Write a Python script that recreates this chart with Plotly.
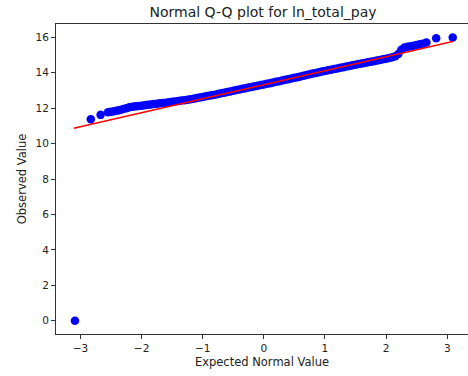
import plotly.graph_objects as go

band_x = [-2.55, -2.50, -2.45, -2.40, -2.35, -2.30, -2.25, -2.20, -2.15, -2.10, -2.05, -2.00,
          -1.95, -1.90, -1.85, -1.80, -1.75, -1.70, -1.65, -1.60, -1.55, -1.50, -1.45, -1.40,
          -1.35, -1.30, -1.25, -1.20, -1.15, -1.10, -1.05, -1.00, -0.95, -0.90, -0.85, -0.80,
          -0.75, -0.70, -0.65, -0.60, -0.55, -0.50, -0.45, -0.40, -0.35, -0.30, -0.25, -0.20,
          -0.15, -0.10, -0.05, 0.00, 0.05, 0.10, 0.15, 0.20, 0.25, 0.30, 0.35, 0.40,
          0.45, 0.50, 0.55, 0.60, 0.65, 0.70, 0.75, 0.80, 0.85, 0.90, 0.95, 1.00,
          1.05, 1.10, 1.15, 1.20, 1.25, 1.30, 1.35, 1.40, 1.45, 1.50, 1.55, 1.60,
          1.65, 1.70, 1.75, 1.80, 1.85, 1.90, 1.95, 2.00, 2.05, 2.10, 2.15, 2.20,
          2.25, 2.30, 2.35, 2.40, 2.45, 2.50, 2.55, 2.60]
band_y = [11.77, 11.80, 11.82, 11.86, 11.90, 11.95, 12.00, 12.05, 12.08, 12.10, 12.12, 12.14,
          12.17, 12.19, 12.21, 12.23, 12.25, 12.27, 12.29, 12.31, 12.33, 12.36, 12.38, 12.40,
          12.43, 12.45, 12.48, 12.50, 12.53, 12.57, 12.60, 12.63, 12.67, 12.70, 12.73, 12.76,
          12.80, 12.84, 12.87, 12.91, 12.94, 12.98, 13.02, 13.05, 13.09, 13.13, 13.16, 13.20,
          13.23, 13.27, 13.30, 13.34, 13.38, 13.41, 13.45, 13.49, 13.52, 13.56, 13.60, 13.63,
          13.67, 13.71, 13.75, 13.79, 13.83, 13.87, 13.91, 13.95, 13.99, 14.03, 14.07, 14.10,
          14.14, 14.17, 14.21, 14.24, 14.28, 14.31, 14.35, 14.38, 14.42, 14.45, 14.49, 14.52,
          14.55, 14.59, 14.62, 14.65, 14.69, 14.72, 14.76, 14.79, 14.83, 14.87, 14.93, 15.05,
          15.30, 15.42, 15.46, 15.49, 15.52, 15.56, 15.60, 15.64]
tail_x = [-3.09, -2.83, -2.67, 2.66, 2.82, 3.09]
tail_y = [0.00, 11.38, 11.62, 15.71, 15.95, 15.99]

# Least-squares fit line parameters
fit_slope = 0.789
fit_intercept = 13.32
fit_x = [-3.11, 3.09]

x_ticks = [-3, -2, -1, 0, 1, 2, 3]
x_ticklabels = ["\u22123", "\u22122", "\u22121", "0", "1", "2", "3"]
y_ticks = [0, 2, 4, 6, 8, 10, 12, 14, 16]

fig = go.Figure()
fig.add_trace(go.Scatter(
    x=tail_x[:3] + band_x + tail_x[3:],
    y=tail_y[:3] + band_y + tail_y[3:],
    mode="markers",
    marker=dict(color="#0000ff", size=8.5, line=dict(width=0)),
    showlegend=False,
))
fig.add_trace(go.Scatter(
    x=fit_x,
    y=[fit_intercept + fit_slope * v for v in fit_x],
    mode="lines",
    line=dict(color="#ff0000", width=1.5),
    showlegend=False,
))

font = "DejaVu Sans"
fig.update_layout(
    width=468, height=376,
    margin=dict(l=56, r=0, t=24, b=42),
    paper_bgcolor="white", plot_bgcolor="white",
    font=dict(family=font, size=10.5, color="#222222"),
    title=dict(text="Normal Q-Q plot for ln_total_pay", x=263 / 468, xanchor="center",
               y=1 - 12.5 / 376, yanchor="middle", font=dict(size=14, color="#222222")),
)
fig.update_xaxes(
    range=[-3.40, 3.34], tickvals=x_ticks, ticktext=x_ticklabels,
    showgrid=False, zeroline=False,
    showline=True, linecolor="#333333", linewidth=1, mirror=True,
    ticks="outside", ticklen=4, tickcolor="#333333",
    title=dict(text="Expected Normal Value", standoff=5, font=dict(size=11.5)),
)
fig.update_yaxes(
    range=[-0.75, 16.75], tickvals=y_ticks,
    showgrid=False, zeroline=False,
    showline=True, linecolor="#333333", linewidth=1, mirror=False,
    ticks="outside", ticklen=4, tickcolor="#333333",
    title=dict(text="Observed Value", standoff=6, font=dict(size=11.5)),
)
fig.write_html("out.html")
